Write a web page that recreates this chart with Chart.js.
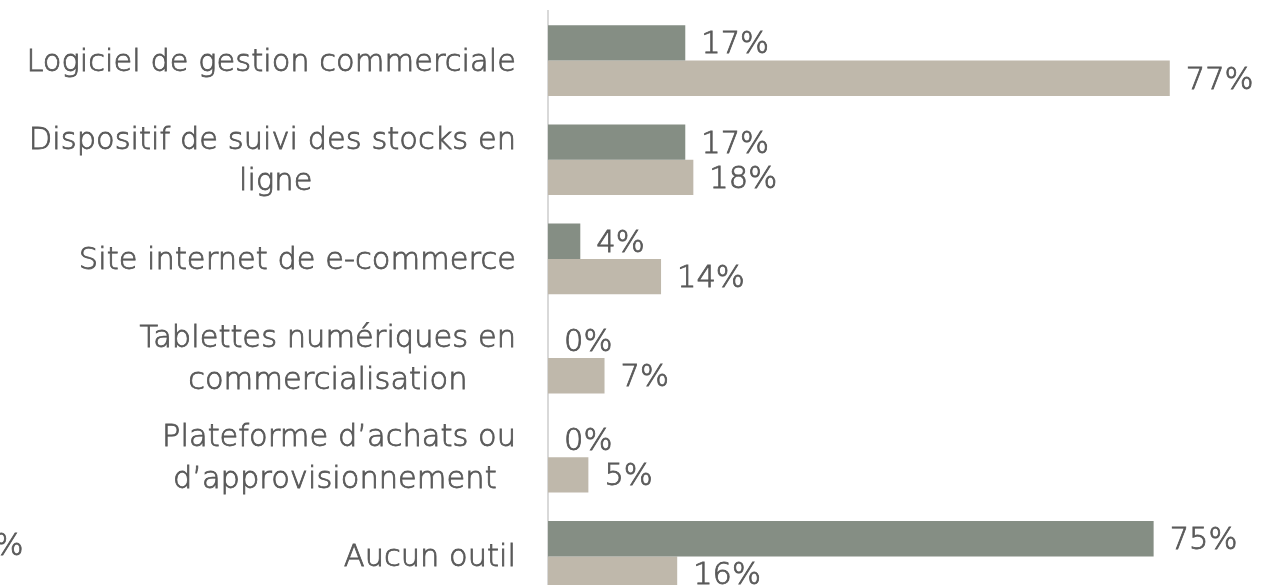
<!DOCTYPE html>
<html>
<head>
<meta charset="utf-8">
<script src="https://cdn.jsdelivr.net/npm/chart.js@4/dist/chart.umd.min.js"></script>
<style>
  html, body { margin: 0; padding: 0; background: #fff; overflow: hidden; }
  #wrap { position: relative; width: 1263px; height: 620px; }
  #stray { position: absolute; left: -25px; top: 527px; font: 200 30.5px 'DejaVu Sans', sans-serif; color: #595959;
           -webkit-text-stroke: 0.8px #595959; white-space: nowrap; }
</style>
</head>
<body>
<div id="wrap">
  <canvas id="chart"></canvas>
  <div id="stray">0%</div>
</div>
<script>
// categories (multi-line where the original wraps)
const categories = [
  ['Logiciel de gestion commerciale'],
  ['Dispositif de suivi des stocks en', 'ligne'],
  ['Site internet de e-commerce'],
  ['Tablettes numériques en', 'commercialisation'],
  ['Plateforme d\u2019achats ou', 'd\u2019approvisionnement'],
  ['Aucun outil']
];
const seriesA = [17, 17, 4, 0, 0, 75];   // dark bars
const seriesB = [77, 18, 14, 7, 5, 16];  // light bars

const textColor = '#595959';
const fontFamily = "'DejaVu Sans', sans-serif";
const fontSize = 30.5;
const strokeW = 0.8; // thickens the extra light face a little

// pad the shorter lines with spaces so a right aligned block looks centred
function centerLines(lines) {
  if (lines.length < 2) return lines[0];
  const ctx = document.createElement('canvas').getContext('2d');
  ctx.font = `200 ${fontSize}px ${fontFamily}`;
  const widest = Math.max(...lines.map(l => ctx.measureText(l).width));
  const space = ctx.measureText(' ').width;
  return lines.map(l => {
    let n = Math.round((widest - ctx.measureText(l).width) / 2 / space);
    return l + ' '.repeat(Math.max(n, 0));
  });
}

const valueLabels = {
  id: 'valueLabels',
  afterDatasetsDraw(chart) {
    const ctx = chart.ctx;
    ctx.save();
    ctx.font = `200 ${fontSize}px ${fontFamily}`;
    ctx.fillStyle = textColor;
    ctx.strokeStyle = textColor;
    ctx.lineWidth = strokeW;
    ctx.textAlign = 'left';
    ctx.textBaseline = 'middle';
    chart.data.datasets.forEach((ds, i) => {
      chart.getDatasetMeta(i).data.forEach((bar, j) => {
        const txt = ds.data[j] + '%';
        ctx.strokeText(txt, bar.x + 16, bar.y + 2.5);
        ctx.fillText(txt, bar.x + 16, bar.y + 2.5);
      });
    });
    ctx.restore();
  }
};

new Chart(document.getElementById('chart'), {
  type: 'bar',
  data: {
    labels: categories.map(centerLines),
    datasets: [
      { data: seriesA, backgroundColor: '#858e84', categoryPercentage: 0.712, barPercentage: 1 },
      { data: seriesB, backgroundColor: '#bfb8ab', categoryPercentage: 0.712, barPercentage: 1 }
    ]
  },
  options: {
    indexAxis: 'y',
    responsive: true,
    maintainAspectRatio: false,
    animation: false,
    layout: { padding: { top: 11, bottom: 14, left: 0, right: 69 } },
    plugins: { legend: { display: false }, tooltip: { enabled: false } },
    scales: {
      x: { display: false, min: 0, max: 80 },
      y: {
        grid: { display: false, drawTicks: false },
        border: { display: true, color: '#d9d9d9', width: 2 },
        ticks: {
          color: textColor,
          textStrokeColor: textColor,
          textStrokeWidth: strokeW,
          padding: 32,
          labelOffset: 2,
          font: { family: fontFamily, size: fontSize, weight: '200', lineHeight: 1.36 }
        },
        afterFit(scale) {
          scale.width = 548;
          scale.paddingTop = 0;
          scale.paddingBottom = 0;
        }
      }
    }
  },
  plugins: [valueLabels]
});
</script>
</body>
</html>
